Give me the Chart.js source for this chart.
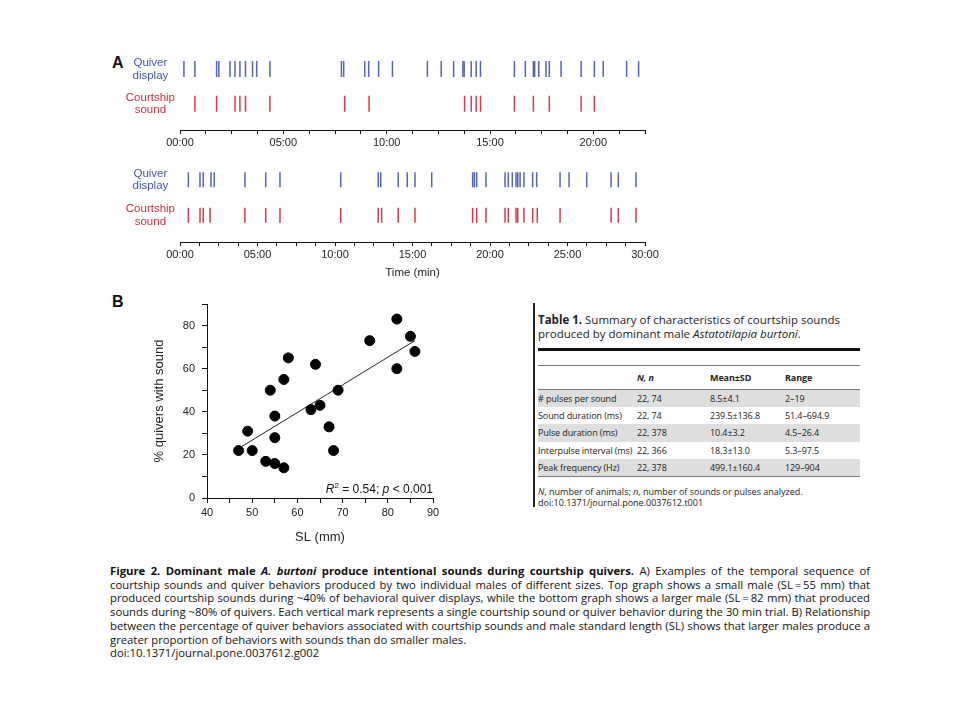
<!DOCTYPE html>
<html lang="en">
<head>
  <meta charset="UTF-8" />
  <title>Figure 2</title>
  <script src="https://cdn.jsdelivr.net/npm/chart.js"></script>
  <style>
    body { margin: 0; width: 960px; height: 720px; position: relative; overflow: hidden; background: #fff;
           font-family: "Liberation Sans", Arial, sans-serif; color: #111; }
    .box { position: absolute; }
    .panel { position: absolute; font-weight: bold; font-size: 16px; }
    #t1 { position: absolute; left: 538px; top: 303px; width: 322px; font-family: "Open Sans", sans-serif; color: #222; }
    #t1bar { position: absolute; left: 533px; top: 303px; width: 2px; height: 204px; background: #222; }
    #t1 .ttl { position: absolute; top: 10px; font-size: 11.5px; line-height: 14px; white-space: nowrap; }
    #t1 .thick { position: absolute; top: 45px; left: 0; width: 322px; height: 2.5px; background: #111; }
    #t1 table { position: absolute; top: 62px; left: 0; width: 322px; border-collapse: collapse; table-layout: fixed;
                font-size: 9px; letter-spacing: -0.1px; border-top: 1.5px solid #777; border-bottom: 1.5px solid #777; }
    #t1 td { padding: 0; height: 17.4px; white-space: nowrap; }
    #t1 tr.hd td { height: 22.5px; font-weight: bold; border-bottom: 1.5px solid #777; }
    #t1 tr.g td { background: #dedede; }
    #t1 .foot { position: absolute; top: 183px; font-size: 9px; line-height: 11px; white-space: nowrap; }
    #cap { position: absolute; left: 110px; top: 564px; width: 760px; font-family: "Open Sans", sans-serif; font-size: 11.3px;
           line-height: 13.7px; color: #111; }
    #cap div { white-space: nowrap; text-align: justify; text-align-last: justify; }
    #cap div.last { text-align-last: left; }
  </style>
</head>
<body>
  <div class="panel" style="left:112px; top:54px;">A</div>
  <div class="panel" style="left:112px; top:293px;">B</div>

  <div class="box" style="left:100px; top:40px; width:570px; height:115px;"><canvas id="rasterTop"></canvas></div>
  <div class="box" style="left:100px; top:150px; width:570px; height:134px;"><canvas id="rasterBottom"></canvas></div>
  <div class="box" style="left:148px; top:290px; width:295px; height:259px;"><canvas id="slChart"></canvas></div>

  <div id="t1bar"></div>
  <div id="t1">
    <div class="ttl"><b>Table 1.</b> Summary of characteristics of courtship sounds<br>produced by dominant male <i>Astatotilapia burtoni</i>.</div>
    <div class="thick"></div>
    <table id="t1table"></table>
    <div class="foot"><i>N</i>, number of animals; <i>n</i>, number of sounds or pulses analyzed.<br>doi:10.1371/journal.pone.0037612.t001</div>
  </div>

  <div id="cap">
    <div><b>Figure 2. Dominant male <i>A. burtoni</i> produce intentional sounds during courtship quivers.</b> A) Examples of the temporal sequence of</div>
    <div>courtship sounds and quiver behaviors produced by two individual males of different sizes. Top graph shows a small male (SL&#8201;=&#8201;55 mm) that</div>
    <div>produced courtship sounds during ~40% of behavioral quiver displays, while the bottom graph shows a larger male (SL&#8201;=&#8201;82 mm) that produced</div>
    <div>sounds during ~80% of quivers. Each vertical mark represents a single courtship sound or quiver behavior during the 30 min trial. B) Relationship</div>
    <div>between the percentage of quiver behaviors associated with courtship sounds and male standard length (SL) shows that larger males produce a</div>
    <div class="last">greater proportion of behaviors with sounds than do smaller males.</div>
    <div class="last">doi:10.1371/journal.pone.0037612.g002</div>
  </div>

  <script>
    // event times in minutes
    const quiverSmall = [0.19, 0.72, 1.77, 1.88, 2.42, 2.66, 2.90, 3.17, 3.51, 3.71, 4.35, 7.81, 7.92, 8.94, 9.13, 9.61,
      10.28, 11.97, 12.64, 13.24, 13.69, 13.75, 14.09, 14.33, 14.54, 16.18, 16.71, 17.10, 17.16, 17.36, 17.71, 17.87,
      18.44, 19.41, 20.05, 20.48, 21.61, 22.19];
    const soundSmall = [0.72, 1.77, 2.66, 2.90, 3.17, 4.35, 7.97, 9.15, 13.77, 14.09, 14.33, 14.54, 16.18, 17.10, 17.87,
      19.41, 20.05];
    const quiverLarge = [0.54, 1.29, 1.50, 2.00, 2.21, 4.19, 5.53, 6.45, 10.37, 12.79, 12.95, 14.08, 14.66, 15.16, 16.24,
      18.88, 18.99, 19.14, 19.74, 20.97, 21.18, 21.44, 21.68, 21.79, 21.94, 22.19, 22.75, 23.01, 24.52, 25.10, 26.24,
      27.81, 28.28, 29.42];
    const soundLarge = [0.54, 1.29, 1.50, 1.94, 4.19, 5.53, 6.45, 10.37, 12.79, 13.01, 14.08, 15.16, 18.88, 19.14, 19.74,
      20.97, 21.18, 21.68, 21.79, 22.19, 22.75, 23.05, 24.52, 27.81, 28.28, 29.42];
    const rowLabels = [['Courtship', 'sound'], ['Quiver', 'display']];

    // panel B
    const slMm = [47, 49, 50, 53, 54, 55, 55, 55, 57, 57, 58, 63, 64, 65, 67, 68, 69, 76, 82, 82, 85, 86];
    const pctSound = [22, 31, 22, 17, 50, 38, 28, 16, 55, 14, 65, 41, 62, 43, 33, 22, 50, 73, 83, 60, 75, 68];
    const fitSl = [47, 86];
    const fitPct = [23, 73];

    // table 1
    const rowNames = ['# pulses per sound', 'Sound duration (ms)', 'Pulse duration (ms)', 'Interpulse interval (ms)', 'Peak frequency (Hz)'];
    const rowNn = ['22, 74', '22, 74', '22, 378', '22, 366', '22, 378'];
    const rowMean = ['8.5\u00b14.1', '239.5\u00b1136.8', '10.4\u00b13.2', '18.3\u00b113.0', '499.1\u00b1160.4'];
    const rowRange = ['2\u201319', '51.4\u2013694.9', '4.5\u201326.4', '5.3\u201397.5', '129\u2013904'];

    const blueText = '#4455a4', redText = '#d02a3a';
    const blueMark = '#5565ae', redMark = '#d83a4a';

    function mmss(v) {
      return String(v).padStart(2, '0') + ':00';
    }

    function raster(id, quiver, sound, maxMin, showTitle, axisH, padTop, markR) {
      new Chart(document.getElementById(id), {
        type: 'scatter',
        data: {
          datasets: [
            { data: quiver.map(t => ({ x: t, y: 1 })), borderColor: blueMark, backgroundColor: blueMark },
            { data: sound.map(t => ({ x: t, y: 0 })), borderColor: redMark, backgroundColor: redMark }
          ]
        },
        options: {
          animation: false,
          responsive: true,
          maintainAspectRatio: false,
          layout: { padding: { top: padTop, right: 25, left: 0, bottom: 0 } },
          elements: { point: { pointStyle: 'line', rotation: 90, radius: markR, borderWidth: 1.5, hoverRadius: markR } },
          plugins: { legend: { display: false }, tooltip: { enabled: false } },
          scales: {
            x: {
              type: 'linear', min: 0, max: maxMin,
              border: { color: '#111', width: 1 },
              grid: { drawOnChartArea: false, drawTicks: true, tickLength: 4, color: '#111' },
              ticks: { stepSize: 1.25, autoSkip: false, maxRotation: 0, padding: 2, color: '#222',
                       font: { family: 'Liberation Sans', size: 11 },
                       callback: v => (v % 5 === 0 ? mmss(v) : '') },
              title: { display: showTitle, text: 'Time (min)', color: '#222',
                       font: { family: 'Liberation Sans', size: 11.5 }, padding: { top: 4, bottom: 4 } },
              afterFit: s => { s.height = axisH; }
            },
            y: {
              type: 'linear', min: -0.75, max: 1.5,
              border: { display: false },
              grid: { display: false, drawTicks: false },
              afterBuildTicks: s => { s.ticks = [{ value: 0 }, { value: 1 }]; },
              ticks: { crossAlign: 'center', padding: 5,
                       font: { family: 'Liberation Sans', size: 11.5, lineHeight: 1.12 },
                       color: ctx => (ctx.tick && ctx.tick.value === 1 ? blueText : redText),
                       callback: v => rowLabels[v] },
              afterFit: s => { s.width = 80; s.paddingTop = 0; s.paddingBottom = 0; }
            }
          }
        }
      });
    }

    raster('rasterTop', quiverSmall, soundSmall, 22.5, false, 25, 11.5, 8);
    raster('rasterBottom', quiverLarge, soundLarge, 30, true, 42, 12, 7.5);

    // R^2 annotation in the lower right of panel B
    const statText = {
      id: 'statText',
      afterDraw(chart) {
        const { ctx, chartArea } = chart;
        const parts = [
          { t: 'R', f: 'italic 12px "Liberation Sans"' },
          { t: '2', f: '8px "Liberation Sans"', up: 5 },
          { t: ' = 0.54; ', f: '12px "Liberation Sans"' },
          { t: 'p', f: 'italic 12px "Liberation Sans"' },
          { t: ' < 0.001', f: '12px "Liberation Sans"' }
        ];
        ctx.save();
        ctx.fillStyle = '#111';
        ctx.textBaseline = 'alphabetic';
        let total = 0;
        parts.forEach(p => { ctx.font = p.f; p.w = ctx.measureText(p.t).width; total += p.w; });
        let x = chartArea.right - total;
        const y = chartArea.bottom - 5;
        parts.forEach(p => { ctx.font = p.f; ctx.fillText(p.t, x, y - (p.up || 0)); x += p.w; });
        ctx.restore();
      }
    };

    new Chart(document.getElementById('slChart'), {
      type: 'scatter',
      data: {
        datasets: [
          { data: slMm.map((v, i) => ({ x: v, y: pctSound[i] })), backgroundColor: '#000', borderColor: '#000',
            pointRadius: 5, pointHoverRadius: 5 },
          { type: 'line', data: fitSl.map((v, i) => ({ x: v, y: fitPct[i] })), borderColor: '#222', borderWidth: 1,
            pointRadius: 0, fill: false }
        ]
      },
      options: {
        animation: false,
        responsive: true,
        maintainAspectRatio: false,
        layout: { padding: { top: 14, right: 10, left: 0, bottom: 0 } },
        plugins: { legend: { display: false }, tooltip: { enabled: false } },
        scales: {
          x: {
            type: 'linear', min: 40, max: 90,
            border: { color: '#111', width: 1 },
            grid: { drawOnChartArea: false, tickLength: 5, color: '#111' },
            ticks: { stepSize: 5, autoSkip: false, maxRotation: 0, padding: 3, color: '#222',
                     font: { family: 'Liberation Sans', size: 11 },
                     callback: v => (v % 10 === 0 ? v : '') },
            title: { display: true, text: 'SL (mm)', color: '#222', font: { family: 'Liberation Sans', size: 13 },
                     padding: { top: 4, bottom: 4 } },
            afterFit: s => { s.height = 51; }
          },
          y: {
            type: 'linear', min: 0, max: 90,
            border: { color: '#111', width: 1 },
            grid: { drawOnChartArea: false, tickLength: 5, color: '#111' },
            ticks: { stepSize: 10, autoSkip: false, padding: 7, color: '#222',
                     font: { family: 'Liberation Sans', size: 11 },
                     callback: v => (v % 20 === 0 ? v : '') },
            title: { display: true, text: '% quivers with sound', color: '#222',
                     font: { family: 'Liberation Sans', size: 13 }, padding: { top: 4, bottom: 4 } },
            afterFit: s => { s.width = 59; }
          }
        }
      },
      plugins: [statText]
    });

    // build table 1 from the arrays
    const tbl = document.getElementById('t1table');
    let html = '<colgroup><col style="width:99px"><col style="width:73px"><col style="width:75px"><col style="width:75px"></colgroup>';
    html += '<tr class="hd"><td></td><td><i>N, n</i></td><td>Mean\u00b1SD</td><td>Range</td></tr>';
    rowNames.forEach((name, i) => {
      html += '<tr class="' + (i % 2 === 0 ? 'g' : '') + '"><td>' + name + '</td><td>' + rowNn[i] + '</td><td>' +
        rowMean[i] + '</td><td>' + rowRange[i] + '</td></tr>';
    });
    tbl.innerHTML = html;
  </script>
</body>
</html>
